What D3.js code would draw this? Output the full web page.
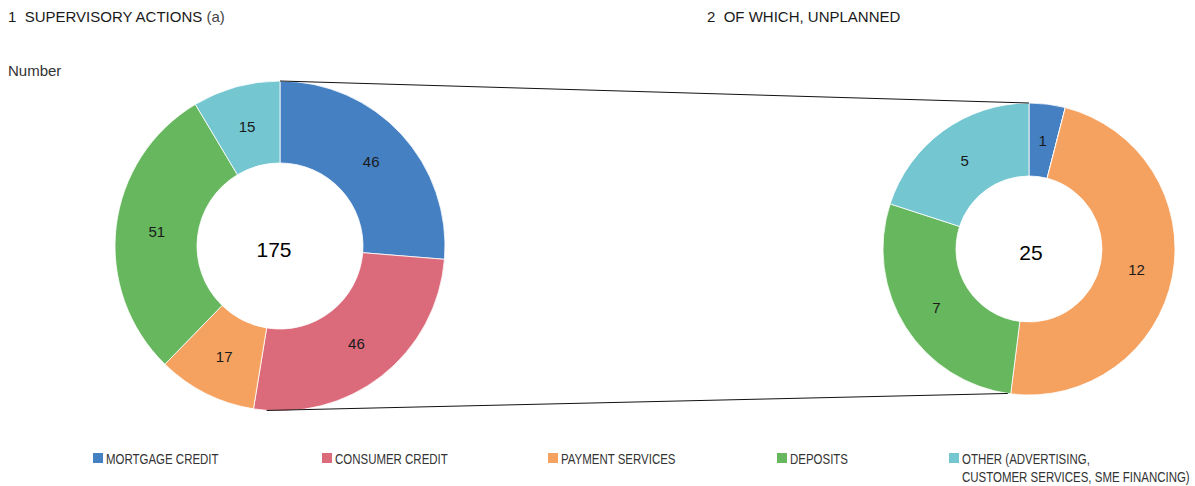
<!DOCTYPE html>
<html lang="en">
<meta charset="utf-8">
<style>
body { margin: 0; background: #fff; }
text { font-family: "Liberation Sans", Arial, sans-serif; fill: #1a1a1a; white-space: pre; }
.legend text { font-size: 15px; fill: #333; }
</style>
<body>
<script src="https://d3js.org/d3.v7.min.js"></script>
<script>
// categories and values
var categories = ["MORTGAGE CREDIT", "CONSUMER CREDIT", "PAYMENT SERVICES", "DEPOSITS", "OTHER (ADVERTISING,|CUSTOMER SERVICES, SME FINANCING)"];
var colours = ["#4580c2", "#db6b7b", "#f5a261", "#66b75e", "#74c6d1"];
var supervisory = [46, 46, 17, 51, 15];
var unplanned = [1, 0, 12, 7, 5];
var titles = ["1  SUPERVISORY ACTIONS", "2  OF WHICH, UNPLANNED"];

var w = 1195, h = 486;

var svg = d3.select("body").append("svg")
  .attr("width", w)
  .attr("height", h);

// titles
var t1 = svg.append("text").attr("x", 8).attr("y", 22).style("font-size", "15px").text(titles[0] + " ");
t1.append("tspan").style("fill", "#444").text("(a)");
svg.append("text").attr("x", 707).attr("y", 22).style("font-size", "15px").text(titles[1]);
svg.append("text").attr("x", 8).attr("y", 76).style("font-size", "15px").style("fill", "#333").text("Number");

var pie = d3.pie().sort(null).value(function(d) { return d; });

function donut(values, cx, cy, r0, r1, tdx) {
  var arcs = pie(values);
  var arc = d3.arc().innerRadius(r0).outerRadius(r1);
  var labelArc = d3.arc().innerRadius((r0 + r1) / 2).outerRadius((r0 + r1) / 2);
  var g = svg.append("g").attr("transform", "translate(" + cx + "," + cy + ")");
  g.selectAll("path")
    .data(arcs)
    .enter()
    .append("path")
    .attr("d", arc)
    .attr("fill", function(d, i) { return colours[i]; })
    .attr("stroke", "#fff")
    .attr("stroke-width", 0.8);
  g.selectAll("text.lbl")
    .data(arcs.filter(function(d) { return d.value > 0; }))
    .enter()
    .append("text")
    .attr("class", "lbl")
    .attr("transform", function(d) { return "translate(" + labelArc.centroid(d) + ")"; })
    .attr("text-anchor", "middle")
    .attr("dy", "0.35em")
    .style("font-size", "15px")
    .text(function(d) { return d.value; });
  g.append("text")
    .attr("x", tdx)
    .attr("y", 4)
    .attr("text-anchor", "middle")
    .attr("dy", "0.35em")
    .style("font-size", "21px")
    .style("fill", "#000")
    .text(d3.sum(values));
  return { arcs: arcs, cx: cx, cy: cy, r: r1 };
}

var left = donut(supervisory, 280, 246, 83, 165, -6);
var right = donut(unplanned, 1029, 249, 73, 146, 2);

function pt(d, a) {
  return [d.cx + d.r * Math.sin(a), d.cy - d.r * Math.cos(a)];
}

// connectors: start of both donuts, and end of the payment services slice
var lines = [
  [pt(left, 0), pt(right, 0)],
  [pt(left, (left.arcs[1].endAngle + Math.PI) / 2), pt(right, right.arcs[2].endAngle + 0.02)]
];
svg.selectAll("line.conn")
  .data(lines)
  .enter()
  .append("line")
  .attr("class", "conn")
  .attr("x1", function(d) { return d[0][0]; })
  .attr("y1", function(d) { return d[0][1]; })
  .attr("x2", function(d) { return d[1][0]; })
  .attr("y2", function(d) { return d[1][1]; })
  .attr("stroke", "#111")
  .attr("stroke-width", 1);

// legend
var legendPos = [93, 322, 548, 777, 949];
var lg = svg.append("g").attr("class", "legend")
  .selectAll("g")
  .data(categories)
  .enter()
  .append("g")
  .attr("transform", function(d, i) { return "translate(" + legendPos[i] + ",453)"; });
lg.append("rect")
  .attr("width", 10).attr("height", 10)
  .attr("fill", function(d, i) { return colours[i]; });
lg.append("text")
  .attr("transform", "translate(13,11) scale(0.765,1)")
  .selectAll("tspan")
  .data(function(d) { return d.split("|"); })
  .enter()
  .append("tspan")
  .attr("x", 0)
  .attr("dy", function(d, i) { return i ? 18 : 0; })
  .text(function(d) { return d; });
</script>
</body>
</html>
